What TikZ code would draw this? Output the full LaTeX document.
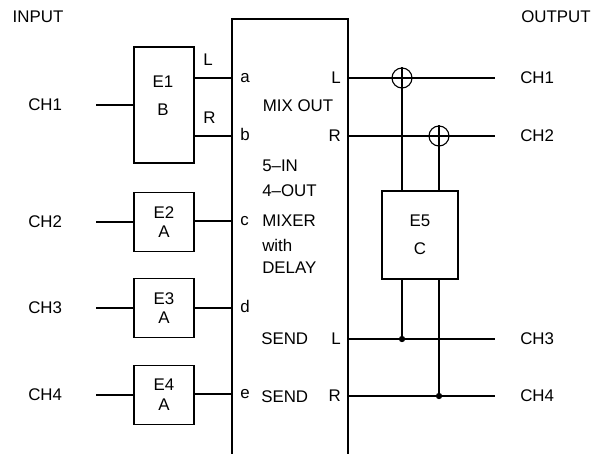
\documentclass[tikz,border=0pt]{standalone}
\usepackage{fontspec}
\setmainfont{Liberation Sans}
\usetikzlibrary{positioning,calc}
\newcommand{\lblfont}{\fontsize{12}{14}\selectfont}
\tikzset{
  fx_box/.style={draw=black,line width=1.1pt,minimum width=1.5cm,minimum height=1.475cm,
    inner sep=0pt,align=center,font=\lblfont},
  mix_box/.style={draw=none,minimum width=2.875cm,minimum height=10.9cm,inner sep=0pt},
  txt/.style={inner sep=0pt,font=\lblfont,anchor=base},
  wire/.style={draw=black,line width=0.8pt},
  frame/.style={draw=black,line width=1.3pt},
  sum/.style={circle,draw=black,line width=0.8pt,minimum size=0.5cm,inner sep=0pt},
  dot/.style={circle,fill=black,minimum size=4.5pt,inner sep=0pt},
}

\begin{document}
\begin{tikzpicture}[x=0.025cm,y=-0.025cm]
    \useasboundingbox (0,0) rectangle (606,454);

    % headings
    \node[txt] (inhead) at (38,22) {INPUT};
    \node[txt] (outhead) at (556,22) {OUTPUT};

    % mixer, open at the bottom
    \node[mix_box,anchor=north west] (mix) at (232,19) {};
    \draw[frame] (mix.south west) -- (mix.north west) -- (mix.north east) -- (mix.south east);
    \foreach \p/\y in {a/78,b/136,c/221,d/308,e/394}{
      \coordinate (in\p) at (232,\y);
      \node[txt,anchor=base west] (lab\p) at (240,\y+4) {\p};
    }
    \foreach \p/\t/\y in {ml/L/78,mr/R/136,sl/L/339,sr/R/396}{
      \coordinate (out\p) at (347,\y);
      \node[txt,anchor=base east] (lab\p) at (341,\y+5) {\t};
    }
    \node[txt] (mixout) at (298,111) {MIX OUT};
    \node[txt,anchor=base west] (fivein) at (262,171) {5--IN};
    \node[txt,anchor=base west] (fourout) at (262,196) {4--OUT};
    \node[txt,anchor=base west] (mixer) at (262,226) {MIXER};
    \node[txt,anchor=base west] (with) at (262,251) {with};
    \node[txt,anchor=base west] (delay) at (262,273) {DELAY};
    \node[txt,anchor=base west] (sendl) at (261,344) {SEND};
    \node[txt,anchor=base west] (sendr) at (261,402) {SEND};

    % effects on the inputs
    \node[fx_box,minimum height=2.9cm] (e1) at (164,105) {};
    \node[txt] (e1name) at (163,87) {E1};
    \node[txt] (e1type) at (163,115) {B};
    \node[fx_box] (e2) at (164,222) {E2\\A};
    \node[fx_box] (e3) at (164,308) {E3\\A};
    \node[fx_box] (e4) at (164,395) {E4\\A};
    \node[txt,anchor=base west] (ll) at (203,65) {L};
    \node[txt,anchor=base west] (lr) at (203,123) {R};

    \foreach \n/\y in {1/105,2/222,3/308,4/395}{
      \node[txt,anchor=base west] (ich\n) at (28,\y+5) {CH\n};
      \coordinate (iw\n) at (96,\y);
    }
    \draw[wire] (iw1) -- (e1.west |- iw1);
    \draw[wire] (iw2) -- (e2);
    \draw[wire] (iw3) -- (e3);
    \draw[wire] (iw4) -- (e4);
    \draw[wire] (e1.east |- ina) -- (ina);
    \draw[wire] (e1.east |- inb) -- (inb);
    \draw[wire] (e2.east |- inc) -- (inc);
    \draw[wire] (e3.east |- ind) -- (ind);
    \draw[wire] (e4.east |- ine) -- (ine);

    % outputs
    \node[sum] (sum1) at (402,78) {};
    \node[sum] (sum2) at (439,136) {};
    \draw[wire] (sum1.west) -- (sum1.east) (sum1.north) -- (sum1.south);
    \draw[wire] (sum2.west) -- (sum2.east) (sum2.north) -- (sum2.south);
    \node[fx_box,minimum width=1.9cm,minimum height=2.2cm] (e5) at (420,235) {E5\\[6pt]C};
    \node[dot] (dot1) at (402,339) {};
    \node[dot] (dot2) at (439,396) {};

    \foreach \n/\y in {1/78,2/136,3/339,4/396}{
      \node[txt,anchor=base west] (och\n) at (520,\y+5) {CH\n};
      \coordinate (ow\n) at (495,\y);
    }
    \draw[wire] (outml) -- (sum1) -- (ow1);
    \draw[wire] (outmr) -- (sum2) -- (ow2);
    \draw[wire] (outsl) -- (ow3);
    \draw[wire] (outsr) -- (ow4);
    \draw[wire] (sum1) -- (sum1 |- e5.north);
    \draw[wire] (sum2) -- (sum2 |- e5.north);
    \draw[wire] (dot1 |- e5.south) -- (dot1);
    \draw[wire] (dot2 |- e5.south) -- (dot2);
  \end{tikzpicture}
\end{document}
